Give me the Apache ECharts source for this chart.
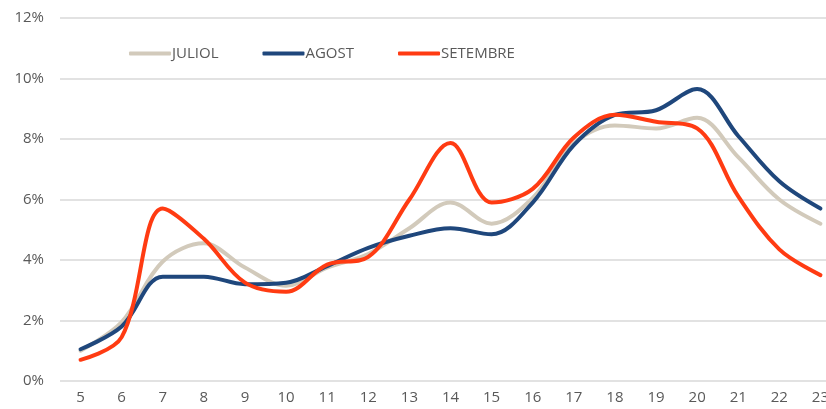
<!DOCTYPE html>
<html>
<head>
<meta charset="utf-8">
<script src="https://cdn.jsdelivr.net/npm/echarts@6/dist/echarts.min.js"></script>
<style>
  html, body { margin: 0; padding: 0; background: #fff; overflow: hidden; }
  /* the original picture is cropped on the right, so the chart is a bit wider than the window */
  #chart { width: 841px; height: 409px; }
</style>
</head>
<body>
<div id="chart"></div>
<script>
const hours = ['5', '6', '7', '8', '9', '10', '11', '12', '13', '14', '15', '16', '17', '18', '19', '20', '21', '22', '23'];
const juliol = [1.0, 1.95, 3.95, 4.55, 3.75, 3.15, 3.75, 4.2, 5.05, 5.9, 5.2, 6.05, 7.85, 8.45, 8.35, 8.7, 7.4, 6.0, 5.2];
const agost = [1.05, 1.8, 3.45, 3.45, 3.2, 3.25, 3.8, 4.4, 4.8, 5.05, 4.85, 5.9, 7.8, 8.8, 8.95, 9.65, 8.1, 6.6, 5.7];
const setembre = [0.7, 1.45, 5.7, 4.7, 3.25, 2.95, 3.85, 4.1, 6.0, 7.87, 5.9, 6.35, 8.05, 8.8, 8.57, 8.35, 6.1, 4.35, 3.5];

const chart = echarts.init(document.getElementById('chart'));
const font = '"Open Sans", "Liberation Sans", sans-serif';

const line = (name, data, color) => ({
  name,
  type: 'line',
  data,
  smooth: 0.35,
  symbol: 'none',
  lineStyle: { color, width: 4, cap: 'round' },
  itemStyle: { color }
});

chart.setOption({
  animation: false,
  grid: { left: 60, right: 0, top: 18, bottom: 28 },
  legend: {
    left: 124,
    top: 41,
    itemWidth: 42,
    itemHeight: 4,
    itemGap: 44,
    icon: 'roundRect',
    textStyle: { color: '#595959', fontSize: 15, fontFamily: font, padding: [0, 0, 0, -4] },
    data: ['JULIOL', 'AGOST', 'SETEMBRE']
  },
  xAxis: {
    type: 'category',
    data: hours,
    boundaryGap: true,
    axisLine: { show: false },
    axisTick: { show: false },
    axisLabel: { color: '#595959', fontSize: 15, fontFamily: font, margin: 9 }
  },
  yAxis: {
    type: 'value',
    min: 0,
    max: 12,
    interval: 2,
    axisLine: { show: false },
    axisTick: { show: false },
    axisLabel: { color: '#595959', fontSize: 15, fontFamily: font, margin: 16, formatter: v => v + '%' },
    splitLine: { lineStyle: { color: '#d9d9d9', width: 1.5 } }
  },
  series: [
    line('JULIOL', juliol, '#d2cabb'),
    line('AGOST', agost, '#1f477c'),
    line('SETEMBRE', setembre, '#ff3b12')
  ]
});
</script>
</body>
</html>
